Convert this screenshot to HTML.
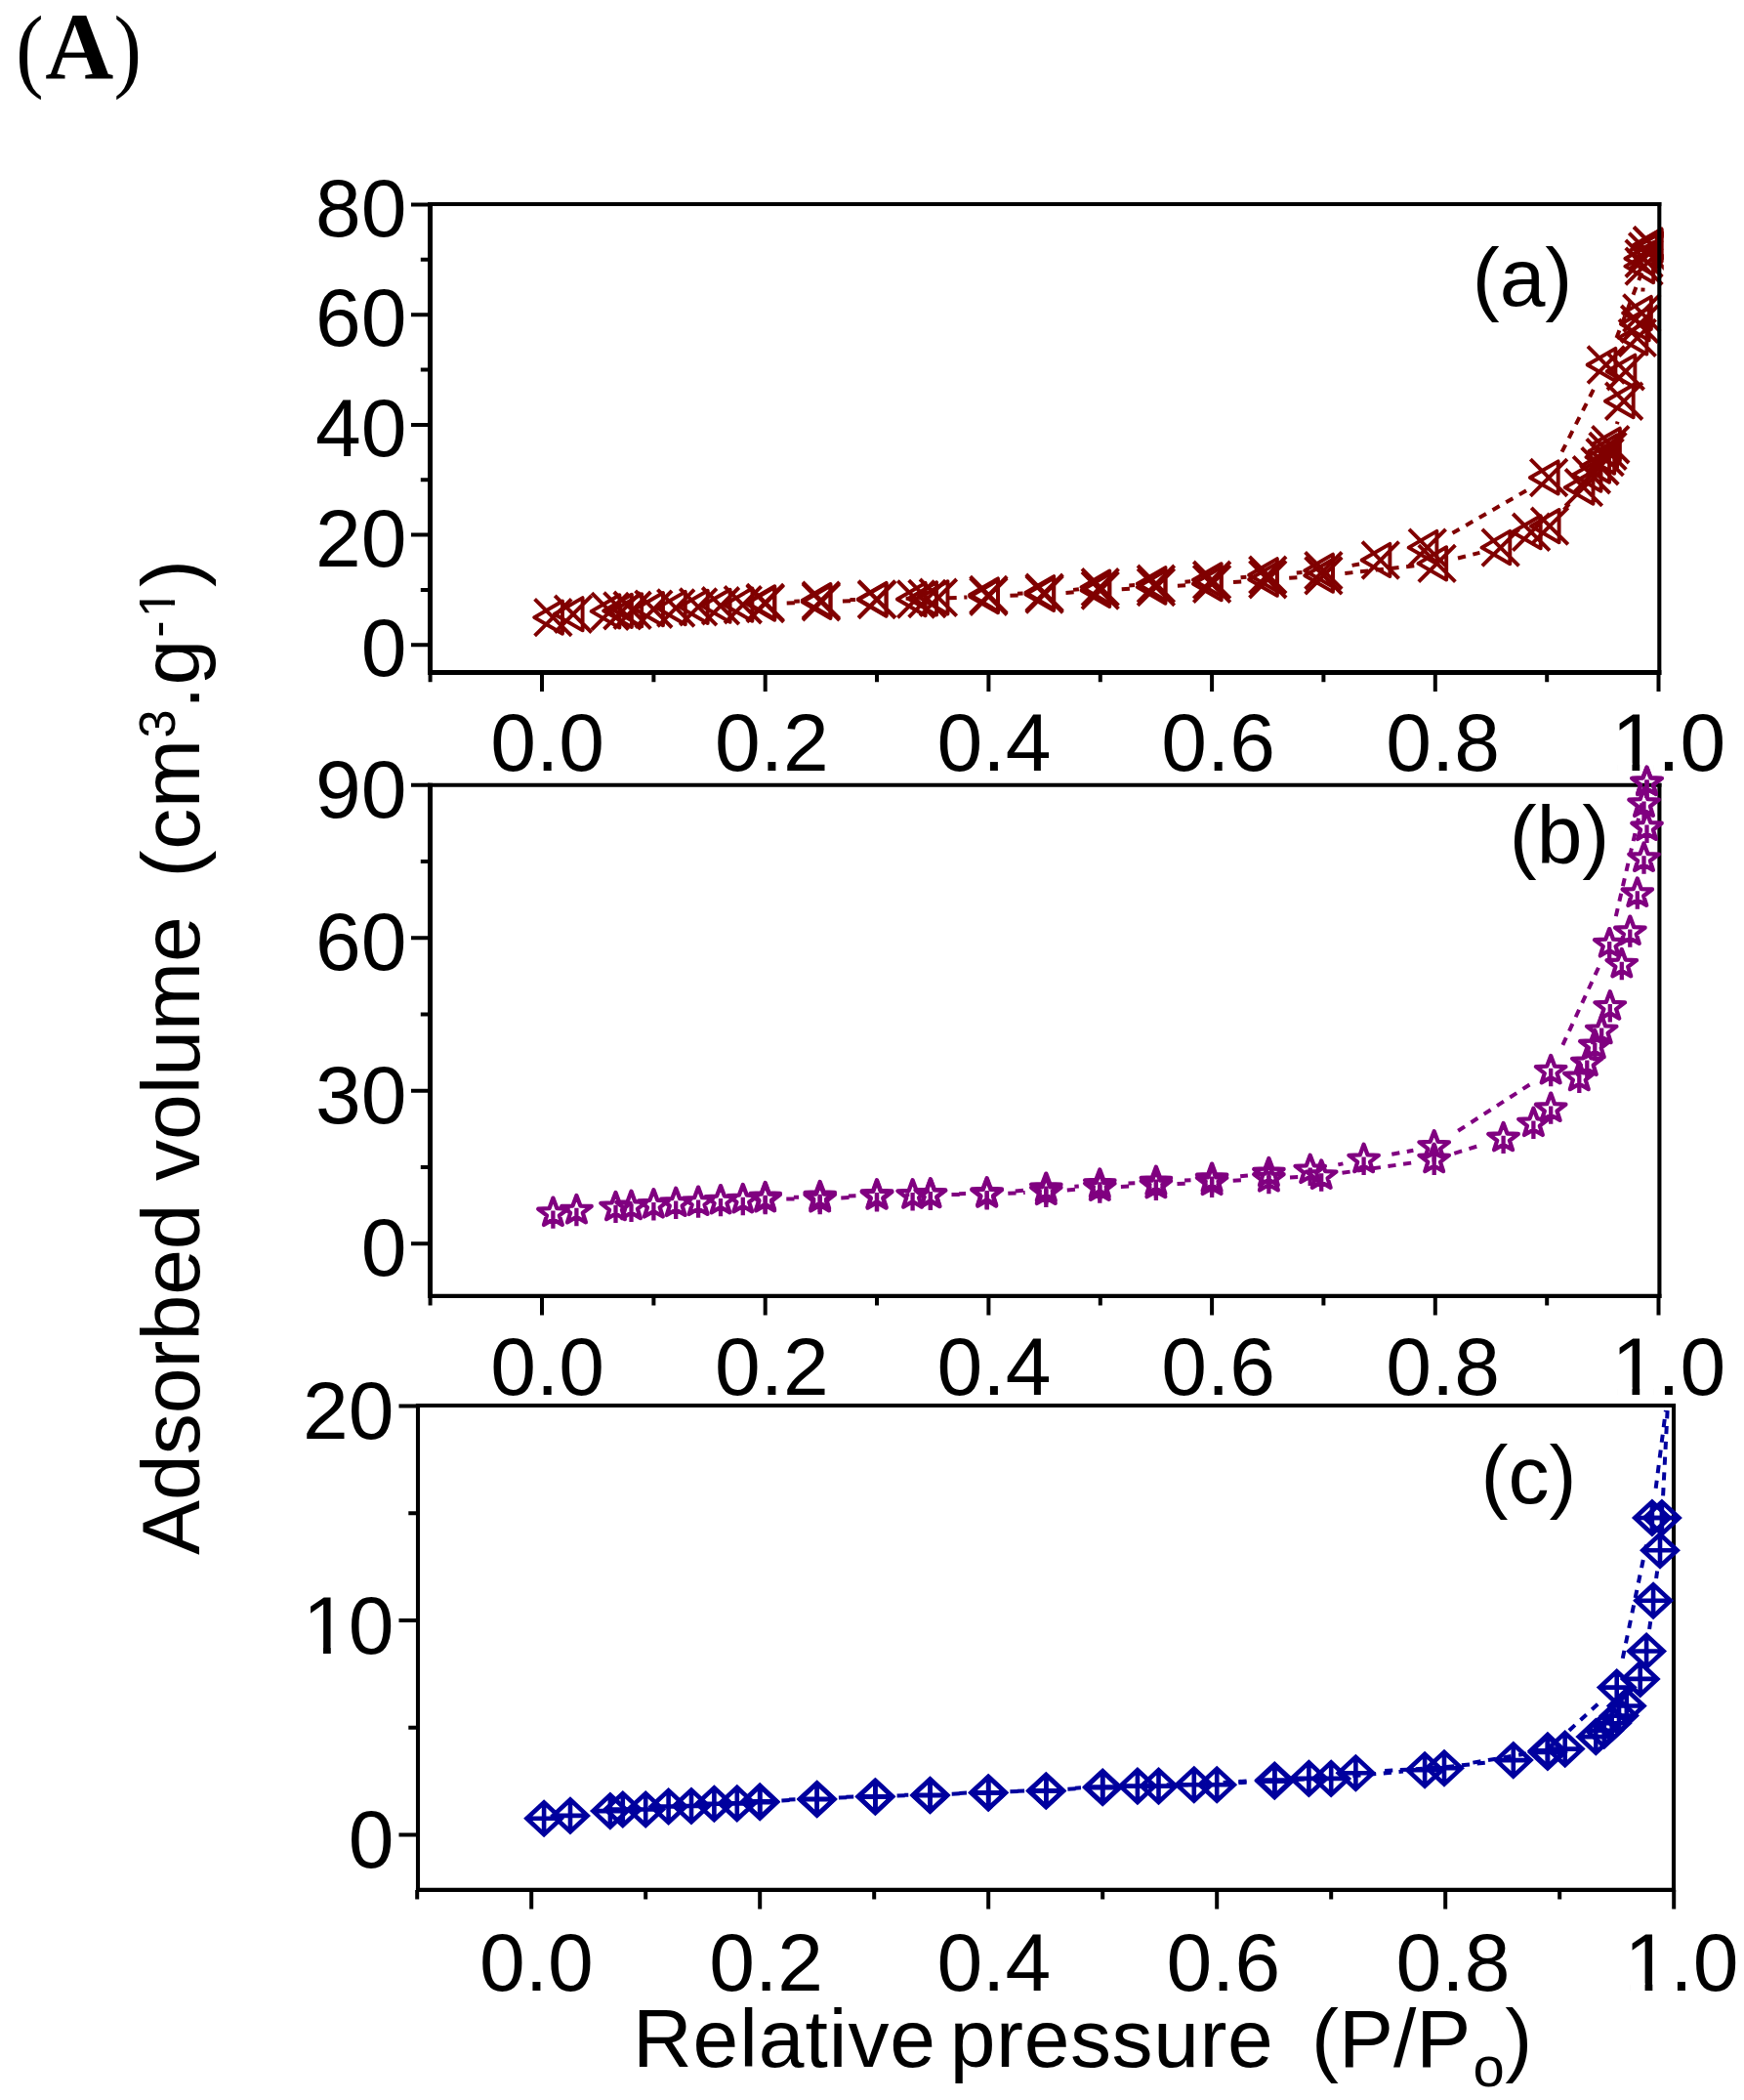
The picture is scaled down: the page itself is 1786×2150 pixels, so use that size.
<!DOCTYPE html>
<html lang="en">
<head>
<meta charset="utf-8">
<title>Adsorbed volume vs relative pressure (A)</title>
<style>
html,body{margin:0;padding:0;background:#fff;}
text{font-kerning:none;}
body{width:1786px;height:2150px;overflow:hidden;}
svg{display:block;}
</style>
</head>
<body>
<svg width="1786" height="2150" viewBox="0 0 1786 2150">
<rect width="1786" height="2150" fill="#fff"/>
<g id="panel-a">
<clipPath id="clip-a"><rect x="410.5" y="185.0" width="1293.3" height="503.5"/></clipPath>
<g clip-path="url(#clip-a)" fill="none" stroke="#800000">
<path d="M805.7 617.4L818.9 617.0M862.9 615.5L876.1 615.0M971.5 612.2L990.4 611.5M1034.4 609.8L1047.6 609.3M1091.5 606.9L1104.8 606.0M1148.7 603.2L1162.0 602.4M1205.9 599.8L1219.1 599.1M1263.0 596.0L1276.3 595.0M1320.2 591.7L1333.5 590.8M1377.3 587.0L1449.8 579.2M1493.0 571.5L1515.4 565.9M1601.6 522.1L1607.3 515.6M1655.8 434.2L1656.6 431.7M1682.4 298.5L1682.6 294.6" stroke-width="4" stroke-dasharray="8.2 7.6" stroke-dashoffset="0"/>
<path d="M1652.7 353.0L1684.1 271.7M1596.1 469.4L1634.8 393.1M1480.9 549.6L1567.0 500.0M1435.0 567.8L1440.6 566.3M1377.1 580.3L1392.1 577.5M1320.2 587.0L1333.5 586.0M1263.0 591.9L1276.4 590.7M1205.9 596.2L1219.2 595.3M1148.7 599.8L1162.0 599.1M1091.5 604.6L1104.9 603.3M1034.4 608.2L1047.6 607.6M982.9 610.6L990.4 610.2M920.0 612.9L939.0 612.4M862.9 614.2L876.1 614.0M805.7 616.0L818.9 615.5" stroke-width="4" stroke-dasharray="8.2 7.6" stroke-dashoffset="8.2"/>
<g stroke-width="3.9" stroke-linejoin="round">
<path d="M547.6 613.3L585.2 650.9M547.6 650.9L585.2 613.3M547.2 632.1L576.0 615.5L576.0 648.8Z"/>
<path d="M568.2 609.9L605.8 647.5M568.2 647.5L605.8 609.9M567.8 628.7L596.6 612.1L596.6 645.4Z"/>
<path d="M606.0 607.1L643.6 644.7M606.0 644.7L643.6 607.1M605.6 625.9L634.4 609.3L634.4 642.6Z"/>
<path d="M618.5 606.6L656.1 644.2M618.5 644.2L656.1 606.6M618.1 625.4L646.9 608.7L646.9 642.0Z"/>
<path d="M628.8 606.0L666.4 643.6M628.8 643.6L666.4 606.0M628.4 624.8L657.2 608.2L657.2 641.4Z"/>
<path d="M650.6 604.9L688.1 642.5M650.6 642.5L688.1 604.9M650.1 623.7L679.0 607.0L679.0 640.3Z"/>
<path d="M673.4 603.7L711.0 641.3M673.4 641.3L711.0 603.7M673.0 622.5L701.8 605.9L701.8 639.2Z"/>
<path d="M696.3 602.6L733.9 640.2M696.3 640.2L733.9 602.6M695.9 621.4L724.7 604.8L724.7 638.0Z"/>
<path d="M719.2 601.5L756.8 639.1M719.2 639.1L756.8 601.5M718.8 620.3L747.6 603.7L747.6 636.9Z"/>
<path d="M742.0 600.4L779.6 638.0M742.0 638.0L779.6 600.4M741.6 619.2L770.4 602.5L770.4 635.8Z"/>
<path d="M764.9 599.2L802.5 636.8M764.9 636.8L802.5 599.2M764.5 618.0L793.3 601.4L793.3 634.7Z"/>
<path d="M822.1 597.5L859.7 635.1M822.1 635.1L859.7 597.5M821.7 616.3L850.5 599.7L850.5 633.0Z"/>
<path d="M879.2 595.3L916.8 632.9M879.2 632.9L916.8 595.3M878.8 614.1L907.6 597.5L907.6 630.7Z"/>
<path d="M919.3 594.7L956.9 632.3M919.3 632.3L956.9 594.7M918.9 613.5L947.7 596.9L947.7 630.2Z"/>
<path d="M930.7 594.2L968.3 631.8M930.7 631.8L968.3 594.2M930.3 613.0L959.1 596.3L959.1 629.6Z"/>
<path d="M993.6 591.9L1031.2 629.5M993.6 629.5L1031.2 591.9M993.2 610.7L1022.0 594.1L1022.0 627.3Z"/>
<path d="M1050.8 589.7L1088.4 627.3M1050.8 627.3L1088.4 589.7M1050.4 608.5L1079.2 591.8L1079.2 625.1Z"/>
<path d="M1108.0 585.7L1145.5 623.3M1108.0 623.3L1145.5 585.7M1107.5 604.5L1136.3 587.9L1136.3 621.1Z"/>
<path d="M1165.1 582.3L1202.7 619.9M1165.1 619.9L1202.7 582.3M1164.7 601.1L1193.5 584.5L1193.5 617.8Z"/>
<path d="M1222.3 579.0L1259.9 616.6M1222.3 616.6L1259.9 579.0M1221.9 597.8L1250.7 581.1L1250.7 614.4Z"/>
<path d="M1279.5 574.4L1317.1 612.0M1279.5 612.0L1317.1 574.4M1279.1 593.2L1307.9 576.6L1307.9 609.9Z"/>
<path d="M1336.6 570.5L1374.2 608.1M1336.6 608.1L1374.2 570.5M1336.2 589.3L1365.0 572.7L1365.0 605.9Z"/>
<path d="M1452.8 558.1L1490.4 595.7M1452.8 595.7L1490.4 558.1M1452.4 576.9L1481.2 560.3L1481.2 593.5Z"/>
<path d="M1517.9 541.8L1555.5 579.4M1517.9 579.4L1555.5 541.8M1517.5 560.6L1546.3 543.9L1546.3 577.2Z"/>
<path d="M1549.3 526.0L1586.9 563.6M1549.3 563.6L1586.9 526.0M1548.9 544.8L1577.7 528.2L1577.7 561.4Z"/>
<path d="M1568.2 519.8L1605.8 557.4M1568.2 557.4L1605.8 519.8M1567.8 538.6L1596.6 522.0L1596.6 555.2Z"/>
<path d="M1603.1 480.3L1640.7 517.9M1603.1 517.9L1640.7 480.3M1602.7 499.1L1631.5 482.5L1631.5 515.8Z"/>
<path d="M1611.1 467.4L1648.7 505.0M1611.1 505.0L1648.7 467.4M1610.7 486.2L1639.5 469.6L1639.5 502.8Z"/>
<path d="M1619.7 458.4L1657.3 496.0M1619.7 496.0L1657.3 458.4M1619.3 477.2L1648.1 460.5L1648.1 493.8Z"/>
<path d="M1624.8 449.3L1662.4 486.9M1624.8 486.9L1662.4 449.3M1624.4 468.1L1653.2 451.5L1653.2 484.8Z"/>
<path d="M1627.7 443.1L1665.3 480.7M1627.7 480.7L1665.3 443.1M1627.3 461.9L1656.1 445.3L1656.1 478.6Z"/>
<path d="M1630.5 436.4L1668.1 474.0M1630.5 474.0L1668.1 436.4M1630.1 455.2L1658.9 438.6L1658.9 471.8Z"/>
<path d="M1644.3 391.9L1681.9 429.5M1644.3 429.5L1681.9 391.9M1643.9 410.7L1672.7 394.0L1672.7 427.3Z"/>
<path d="M1646.0 361.4L1683.6 399.0M1646.0 399.0L1683.6 361.4M1645.6 380.2L1674.4 363.6L1674.4 396.9Z"/>
<path d="M1658.0 327.1L1695.6 364.7M1658.0 364.7L1695.6 327.1M1657.6 345.9L1686.4 329.2L1686.4 362.5Z"/>
<path d="M1660.3 313.0L1697.9 350.6M1660.3 350.6L1697.9 313.0M1659.9 331.8L1688.7 315.2L1688.7 348.4Z"/>
<path d="M1662.5 301.7L1700.1 339.3M1662.5 339.3L1700.1 301.7M1662.1 320.5L1690.9 303.9L1690.9 337.1Z"/>
<path d="M1664.8 253.8L1702.4 291.4M1664.8 291.4L1702.4 253.8M1664.4 272.6L1693.2 256.0L1693.2 289.2Z"/>
<path d="M1664.8 245.9L1702.4 283.5M1664.8 283.5L1702.4 245.9M1664.4 264.7L1693.2 248.1L1693.2 281.4Z"/>
<path d="M1668.3 238.6L1705.9 276.2M1668.3 276.2L1705.9 238.6M1667.9 257.4L1696.7 240.8L1696.7 274.0Z"/>
<path d="M1673.2 232.4L1710.8 270.0M1673.2 270.0L1710.8 232.4M1672.8 251.2L1701.6 234.6L1701.6 267.8Z"/>
<path d="M1673.2 232.4L1710.8 270.0M1673.2 270.0L1710.8 232.4M1672.8 251.2L1701.6 234.6L1701.6 267.8Z"/>
<path d="M1626.0 354.7L1663.6 392.3M1626.0 392.3L1663.6 354.7M1625.6 373.5L1654.4 356.9L1654.4 390.1Z"/>
<path d="M1567.3 470.2L1604.9 507.8M1567.3 507.8L1604.9 470.2M1566.9 489.0L1595.7 472.4L1595.7 505.6Z"/>
<path d="M1443.0 541.8L1480.6 579.4M1443.0 579.4L1480.6 541.8M1442.6 560.6L1471.4 543.9L1471.4 577.2Z"/>
<path d="M1395.0 554.7L1432.6 592.3M1395.0 592.3L1432.6 554.7M1394.6 573.5L1423.4 556.9L1423.4 590.1Z"/>
<path d="M1336.6 565.4L1374.2 603.0M1336.6 603.0L1374.2 565.4M1336.2 584.2L1365.0 567.6L1365.0 600.9Z"/>
<path d="M1279.5 569.9L1317.1 607.5M1279.5 607.5L1317.1 569.9M1279.1 588.7L1307.9 572.1L1307.9 605.4Z"/>
<path d="M1222.3 575.0L1259.9 612.6M1222.3 612.6L1259.9 575.0M1221.9 593.8L1250.7 577.2L1250.7 610.4Z"/>
<path d="M1165.1 579.0L1202.7 616.6M1165.1 616.6L1202.7 579.0M1164.7 597.8L1193.5 581.1L1193.5 614.4Z"/>
<path d="M1108.0 582.3L1145.5 619.9M1108.0 619.9L1145.5 582.3M1107.5 601.1L1136.3 584.5L1136.3 617.8Z"/>
<path d="M1050.8 588.0L1088.4 625.6M1050.8 625.6L1088.4 588.0M1050.4 606.8L1079.2 590.1L1079.2 623.4Z"/>
<path d="M993.6 590.2L1031.2 627.8M993.6 627.8L1031.2 590.2M993.2 609.0L1022.0 592.4L1022.0 625.6Z"/>
<path d="M942.1 593.0L979.7 630.6M942.1 630.6L979.7 593.0M941.7 611.8L970.5 595.2L970.5 628.5Z"/>
<path d="M879.2 594.7L916.8 632.3M879.2 632.3L916.8 594.7M878.8 613.5L907.6 596.9L907.6 630.2Z"/>
<path d="M822.1 595.9L859.7 633.5M822.1 633.5L859.7 595.9M821.7 614.7L850.5 598.0L850.5 631.3Z"/>
<path d="M764.9 598.1L802.5 635.7M764.9 635.7L802.5 598.1M764.5 616.9L793.3 600.3L793.3 633.5Z"/>
</g></g>
<g stroke="#000" fill="none" stroke-linecap="butt">
<path d="M440.5 206.95V691.00" stroke-width="5.0"/>
<path d="M438.00 688.5H1701.35" stroke-width="5.0"/>
<path d="M438.00 209.0H1701.35" stroke-width="4.1"/>
<path d="M1699.3 206.95V691.00" stroke-width="4.1"/>
<path d="M421.0 660.3H440.5M421.0 547.6H440.5M421.0 434.9H440.5M421.0 322.2H440.5M421.0 209.5H440.5M430.8 603.9H440.5M430.8 491.2H440.5M430.8 378.5H440.5M430.8 265.8H440.5M440.6 688.5V698.2M555.0 688.5V708.0M669.4 688.5V698.2M783.7 688.5V708.0M898.0 688.5V698.2M1012.4 688.5V708.0M1126.8 688.5V698.2M1241.1 688.5V708.0M1355.4 688.5V698.2M1469.8 688.5V708.0M1584.2 688.5V698.2M1698.5 688.5V708.0" stroke-width="4.0"/>
</g>
<g font-family='"Liberation Sans", Arial, Helvetica, sans-serif' font-size="84" fill="#000">
<text x="416.5" y="692.3" text-anchor="end">0</text>
<text x="416.5" y="579.6" text-anchor="end">20</text>
<text x="416.5" y="466.9" text-anchor="end">40</text>
<text x="416.5" y="354.2" text-anchor="end">60</text>
<text x="416.5" y="241.5" text-anchor="end">80</text>
<text x="502.2" y="788.5">0.0</text>
<text x="732.0" y="788.5">0.2</text>
<text x="959.6" y="788.5">0.4</text>
<text x="1189.3" y="788.5">0.6</text>
<text x="1419.3" y="788.5">0.8</text>
<text x="1650.5" y="788.5">1.0</text>
<path fill="#fff" stroke="none" d="M1656.11 781.62H1671.49V789.30H1656.11ZM1679.21 781.62H1693.93V789.30H1679.21Z"/>
<text x="1559" y="312.5" text-anchor="middle" font-size="84">(a)</text>
</g>
</g>
<g id="panel-b">
<clipPath id="clip-b"><rect x="410.5" y="763.8" width="1293.5" height="563.1000000000001"/></clipPath>
<g stroke="#000" fill="none" stroke-linecap="butt">
<path d="M440.5 801.75V1328.95" stroke-width="5.0"/>
<path d="M438.00 1326.9H1701.45" stroke-width="4.1"/>
<path d="M438.00 803.8H1701.45" stroke-width="4.1"/>
<path d="M1699.4 801.75V1328.95" stroke-width="4.1"/>
<path d="M421.0 1273.3H440.5M421.0 1116.8H440.5M421.0 960.3H440.5M421.0 803.8H440.5M430.8 1195.0H440.5M430.8 1038.5H440.5M430.8 882.0H440.5M440.6 1326.9V1336.6M555.0 1326.9V1346.4M669.4 1326.9V1336.6M783.7 1326.9V1346.4M898.0 1326.9V1336.6M1012.4 1326.9V1346.4M1126.8 1326.9V1336.6M1241.1 1326.9V1346.4M1355.4 1326.9V1336.6M1469.8 1326.9V1346.4M1584.2 1326.9V1336.6M1698.5 1326.9V1346.4" stroke-width="4.0"/>
</g>
<g font-family='"Liberation Sans", Arial, Helvetica, sans-serif' font-size="84" fill="#000">
<text x="416.5" y="1306.3" text-anchor="end">0</text>
<text x="416.5" y="1149.8" text-anchor="end">30</text>
<text x="416.5" y="993.3" text-anchor="end">60</text>
<text x="416.5" y="836.8" text-anchor="end">90</text>
<text x="502.2" y="1427.5">0.0</text>
<text x="732.0" y="1427.5">0.2</text>
<text x="959.6" y="1427.5">0.4</text>
<text x="1189.3" y="1427.5">0.6</text>
<text x="1419.3" y="1427.5">0.8</text>
<text x="1650.5" y="1427.5">1.0</text>
<path fill="#fff" stroke="none" d="M1656.11 1420.62H1671.49V1428.30H1656.11ZM1679.21 1420.62H1693.93V1428.30H1679.21Z"/>
<text x="1597" y="883.5" text-anchor="middle" font-size="84">(b)</text>
</g>
<g clip-path="url(#clip-b)" fill="none" stroke="#800080">
<path d="M805.3 1227.4L818.1 1227.4M861.3 1226.4L876.5 1225.7M974.5 1223.0L989.1 1222.9M1032.3 1221.8L1049.7 1221.0M1092.8 1218.5L1104.8 1217.5M1147.9 1214.9L1162.3 1214.3M1205.5 1212.1L1219.5 1211.4M1262.7 1208.8L1277.9 1207.9M1321.0 1205.5L1331.6 1205.0M1374.5 1200.8L1447.3 1190.3M1489.3 1180.8L1518.9 1171.7" stroke-width="4" stroke-dasharray="8.2 7.6" stroke-dashoffset="0"/>
<path d="M1653.1 945.5L1681.6 822.2M1597.2 1076.8L1639.1 986.1M1486.8 1161.9L1570.0 1108.2M1417.8 1183.2L1447.4 1177.7M1362.9 1193.9L1375.4 1191.4M1262.6 1204.9L1277.9 1203.4M1205.5 1209.0L1219.5 1208.2M1147.9 1211.8L1162.3 1211.2M1092.8 1215.3L1104.8 1214.4M1032.2 1220.0L1049.8 1218.6M974.5 1222.3L989.1 1222.0M919.6 1223.3L931.3 1223.1M861.3 1224.7L876.5 1224.3M805.3 1225.9L818.1 1225.7" stroke-width="4" stroke-dasharray="8.2 7.6" stroke-dashoffset="8.2"/>
<g stroke-width="4.3" stroke-linejoin="round">
<path d="M566.4 1226.6L570.4 1237.2L581.7 1237.7L572.8 1244.4L575.8 1253.9L566.4 1248.4L557.0 1253.9L560.0 1244.4L551.2 1237.7L562.5 1237.2ZM566.4 1239.4L566.4 1257.8"/>
<path d="M590.4 1224.0L594.4 1234.6L605.7 1235.0L596.8 1241.8L599.9 1251.3L590.4 1245.8L581.0 1251.3L584.1 1241.8L575.2 1235.0L586.5 1234.6ZM590.4 1236.8L590.4 1255.2"/>
<path d="M630.5 1220.9L634.4 1231.4L645.7 1231.9L636.9 1238.7L639.9 1248.1L630.5 1242.7L621.1 1248.1L624.1 1238.7L615.3 1231.9L626.5 1231.4ZM630.5 1233.7L630.5 1252.1"/>
<path d="M646.5 1219.8L650.4 1230.4L661.7 1230.9L652.9 1237.6L655.9 1247.1L646.5 1241.7L637.1 1247.1L640.1 1237.6L631.3 1230.9L642.5 1230.4ZM646.5 1232.6L646.5 1251.0"/>
<path d="M669.4 1218.3L673.3 1228.8L684.6 1229.3L675.7 1236.1L678.8 1245.5L669.4 1240.1L659.9 1245.5L663.0 1236.1L654.1 1229.3L665.4 1228.8ZM669.4 1231.1L669.4 1249.5"/>
<path d="M692.2 1216.7L696.2 1227.2L707.4 1227.7L698.6 1234.5L701.6 1243.9L692.2 1238.5L682.8 1243.9L685.8 1234.5L677.0 1227.7L688.3 1227.2ZM692.2 1229.5L692.2 1247.9"/>
<path d="M715.1 1215.6L719.0 1226.2L730.3 1226.7L721.5 1233.4L724.5 1242.9L715.1 1237.5L705.7 1242.9L708.7 1233.4L699.9 1226.7L711.1 1226.2ZM715.1 1228.4L715.1 1246.8"/>
<path d="M738.0 1214.1L741.9 1224.6L753.2 1225.1L744.4 1231.9L747.4 1241.3L738.0 1235.9L728.6 1241.3L731.6 1231.9L722.7 1225.1L734.0 1224.6ZM738.0 1226.9L738.0 1245.3"/>
<path d="M760.8 1213.0L764.8 1223.6L776.0 1224.1L767.2 1230.8L770.2 1240.3L760.8 1234.9L751.4 1240.3L754.4 1230.8L745.6 1224.1L756.9 1223.6ZM760.8 1225.8L760.8 1244.2"/>
<path d="M783.7 1212.0L787.6 1222.6L798.9 1223.0L790.1 1229.8L793.1 1239.3L783.7 1233.8L774.3 1239.3L777.3 1229.8L768.5 1223.0L779.8 1222.6ZM783.7 1224.8L783.7 1243.2"/>
<path d="M839.7 1212.0L843.7 1222.6L854.9 1223.0L846.1 1229.8L849.1 1239.3L839.7 1233.8L830.3 1239.3L833.3 1229.8L824.5 1223.0L835.8 1222.6ZM839.7 1224.8L839.7 1243.2"/>
<path d="M898.0 1209.4L902.0 1219.9L913.3 1220.4L904.4 1227.2L907.5 1236.6L898.0 1231.2L888.6 1236.6L891.7 1227.2L882.8 1220.4L894.1 1219.9ZM898.0 1222.2L898.0 1240.6"/>
<path d="M934.6 1208.3L938.6 1218.9L949.9 1219.4L941.0 1226.1L944.0 1235.6L934.6 1230.2L925.2 1235.6L928.3 1226.1L919.4 1219.4L930.7 1218.9ZM934.6 1221.1L934.6 1239.5"/>
<path d="M952.9 1207.8L956.9 1218.4L968.2 1218.9L959.3 1225.6L962.3 1235.1L952.9 1229.7L943.5 1235.1L946.5 1225.6L937.7 1218.9L949.0 1218.4ZM952.9 1220.6L952.9 1239.0"/>
<path d="M1010.7 1207.3L1014.6 1217.9L1025.9 1218.4L1017.1 1225.1L1020.1 1234.6L1010.7 1229.1L1001.3 1234.6L1004.3 1225.1L995.5 1218.4L1006.7 1217.9ZM1010.7 1220.1L1010.7 1238.5"/>
<path d="M1071.3 1204.7L1075.2 1215.3L1086.5 1215.7L1077.7 1222.5L1080.7 1231.9L1071.3 1226.5L1061.9 1231.9L1064.9 1222.5L1056.1 1215.7L1067.3 1215.3ZM1071.3 1217.5L1071.3 1235.9"/>
<path d="M1126.3 1200.5L1130.2 1211.1L1141.5 1211.6L1132.7 1218.3L1135.7 1227.8L1126.3 1222.4L1116.9 1227.8L1119.9 1218.3L1111.1 1211.6L1122.3 1211.1ZM1126.3 1213.3L1126.3 1231.7"/>
<path d="M1183.9 1197.9L1187.9 1208.5L1199.1 1209.0L1190.3 1215.7L1193.3 1225.2L1183.9 1219.8L1174.5 1225.2L1177.5 1215.7L1168.7 1209.0L1180.0 1208.5ZM1183.9 1210.7L1183.9 1229.1"/>
<path d="M1241.1 1194.8L1245.0 1205.3L1256.3 1205.8L1247.5 1212.6L1250.5 1222.0L1241.1 1216.6L1231.7 1222.0L1234.7 1212.6L1225.9 1205.8L1237.2 1205.3ZM1241.1 1207.6L1241.1 1226.0"/>
<path d="M1299.4 1191.1L1303.4 1201.7L1314.6 1202.2L1305.8 1208.9L1308.8 1218.4L1299.4 1213.0L1290.0 1218.4L1293.0 1208.9L1284.2 1202.2L1295.5 1201.7ZM1299.4 1203.9L1299.4 1222.3"/>
<path d="M1353.2 1188.5L1357.1 1199.1L1368.4 1199.6L1359.6 1206.3L1362.6 1215.8L1353.2 1210.4L1343.8 1215.8L1346.8 1206.3L1337.9 1199.6L1349.2 1199.1ZM1353.2 1201.3L1353.2 1219.7"/>
<path d="M1468.7 1171.8L1472.6 1182.4L1483.9 1182.9L1475.0 1189.6L1478.1 1199.1L1468.7 1193.7L1459.3 1199.1L1462.3 1189.6L1453.4 1182.9L1464.7 1182.4ZM1468.7 1184.6L1468.7 1203.0"/>
<path d="M1539.6 1149.9L1543.5 1160.5L1554.8 1161.0L1545.9 1167.7L1549.0 1177.2L1539.6 1171.8L1530.1 1177.2L1533.2 1167.7L1524.3 1161.0L1535.6 1160.5ZM1539.6 1162.7L1539.6 1181.1"/>
<path d="M1570.4 1134.8L1574.4 1145.3L1585.6 1145.8L1576.8 1152.6L1579.8 1162.0L1570.4 1156.6L1561.0 1162.0L1564.0 1152.6L1555.2 1145.8L1566.5 1145.3ZM1570.4 1147.6L1570.4 1166.0"/>
<path d="M1588.2 1119.6L1592.1 1130.2L1603.4 1130.7L1594.5 1137.5L1597.6 1146.9L1588.2 1141.5L1578.7 1146.9L1581.8 1137.5L1572.9 1130.7L1584.2 1130.2ZM1588.2 1132.4L1588.2 1150.8"/>
<path d="M1617.3 1087.8L1621.3 1098.4L1632.5 1098.9L1623.7 1105.6L1626.7 1115.1L1617.3 1109.7L1607.9 1115.1L1610.9 1105.6L1602.1 1098.9L1613.4 1098.4ZM1617.3 1100.6L1617.3 1119.0"/>
<path d="M1625.3 1072.7L1629.3 1083.3L1640.5 1083.8L1631.7 1090.5L1634.7 1100.0L1625.3 1094.5L1615.9 1100.0L1618.9 1090.5L1610.1 1083.8L1621.4 1083.3ZM1625.3 1085.5L1625.3 1103.9"/>
<path d="M1633.3 1055.0L1637.3 1065.5L1648.5 1066.0L1639.7 1072.8L1642.7 1082.2L1633.3 1076.8L1623.9 1082.2L1626.9 1072.8L1618.1 1066.0L1629.4 1065.5ZM1633.3 1067.8L1633.3 1086.2"/>
<path d="M1640.2 1039.8L1644.1 1050.4L1655.4 1050.9L1646.6 1057.6L1649.6 1067.1L1640.2 1061.7L1630.8 1067.1L1633.8 1057.6L1625.0 1050.9L1636.2 1050.4ZM1640.2 1052.6L1640.2 1071.0"/>
<path d="M1648.8 1015.3L1652.7 1025.9L1664.0 1026.4L1655.1 1033.1L1658.2 1042.6L1648.8 1037.2L1639.4 1042.6L1642.4 1033.1L1633.5 1026.4L1644.8 1025.9ZM1648.8 1028.1L1648.8 1046.5"/>
<path d="M1660.8 972.0L1664.7 982.6L1676.0 983.1L1667.2 989.8L1670.2 999.3L1660.8 993.9L1651.4 999.3L1654.4 989.8L1645.5 983.1L1656.8 982.6ZM1660.8 984.8L1660.8 1003.2"/>
<path d="M1669.3 938.6L1673.3 949.2L1684.6 949.7L1675.7 956.4L1678.7 965.9L1669.3 960.5L1659.9 965.9L1662.9 956.4L1654.1 949.7L1665.4 949.2ZM1669.3 951.4L1669.3 969.8"/>
<path d="M1676.8 899.5L1680.7 910.1L1692.0 910.5L1683.2 917.3L1686.2 926.8L1676.8 921.3L1667.4 926.8L1670.4 917.3L1661.6 910.5L1672.8 910.1ZM1676.8 912.3L1676.8 930.7"/>
<path d="M1683.5 863.5L1687.5 874.1L1698.7 874.6L1689.9 881.3L1692.9 890.8L1683.5 885.3L1674.1 890.8L1677.1 881.3L1668.3 874.6L1679.6 874.1ZM1683.5 876.3L1683.5 894.7"/>
<path d="M1686.5 831.7L1690.4 842.2L1701.7 842.7L1692.9 849.5L1695.9 858.9L1686.5 853.5L1677.1 858.9L1680.1 849.5L1671.3 842.7L1682.5 842.2ZM1686.5 844.5L1686.5 862.9"/>
<path d="M1683.5 807.7L1687.5 818.2L1698.7 818.7L1689.9 825.5L1692.9 834.9L1683.5 829.5L1674.1 834.9L1677.1 825.5L1668.3 818.7L1679.6 818.2ZM1683.5 820.5L1683.5 838.9"/>
<path d="M1686.5 785.8L1690.4 796.3L1701.7 796.8L1692.9 803.6L1695.9 813.0L1686.5 807.6L1677.1 813.0L1680.1 803.6L1671.3 796.8L1682.5 796.3ZM1686.5 798.6L1686.5 817.0"/>
<path d="M1686.5 785.8L1690.4 796.3L1701.7 796.8L1692.9 803.6L1695.9 813.0L1686.5 807.6L1677.1 813.0L1680.1 803.6L1671.3 796.8L1682.5 796.3ZM1686.5 798.6L1686.5 817.0"/>
<path d="M1648.2 951.1L1652.1 961.7L1663.4 962.2L1654.6 968.9L1657.6 978.4L1648.2 973.0L1638.8 978.4L1641.8 968.9L1633.0 962.2L1644.2 961.7ZM1648.2 963.9L1648.2 982.3"/>
<path d="M1588.2 1081.0L1592.1 1091.6L1603.4 1092.1L1594.5 1098.9L1597.6 1108.3L1588.2 1102.9L1578.7 1108.3L1581.8 1098.9L1572.9 1092.1L1584.2 1091.6ZM1588.2 1093.8L1588.2 1112.2"/>
<path d="M1468.7 1158.3L1472.6 1168.8L1483.9 1169.3L1475.0 1176.1L1478.1 1185.5L1468.7 1180.1L1459.3 1185.5L1462.3 1176.1L1453.4 1169.3L1464.7 1168.8ZM1468.7 1171.1L1468.7 1189.5"/>
<path d="M1396.6 1171.8L1400.6 1182.4L1411.8 1182.9L1403.0 1189.6L1406.0 1199.1L1396.6 1193.7L1387.2 1199.1L1390.2 1189.6L1381.4 1182.9L1392.7 1182.4ZM1396.6 1184.6L1396.6 1203.0"/>
<path d="M1341.7 1182.8L1345.7 1193.3L1356.9 1193.8L1348.1 1200.6L1351.1 1210.0L1341.7 1204.6L1332.3 1210.0L1335.3 1200.6L1326.5 1193.8L1337.8 1193.3ZM1341.7 1195.6L1341.7 1214.0"/>
<path d="M1299.4 1185.9L1303.4 1196.5L1314.6 1197.0L1305.8 1203.7L1308.8 1213.2L1299.4 1207.8L1290.0 1213.2L1293.0 1203.7L1284.2 1197.0L1295.5 1196.5ZM1299.4 1198.7L1299.4 1217.1"/>
<path d="M1241.1 1191.6L1245.0 1202.2L1256.3 1202.7L1247.5 1209.5L1250.5 1218.9L1241.1 1213.5L1231.7 1218.9L1234.7 1209.5L1225.9 1202.7L1237.2 1202.2ZM1241.1 1204.4L1241.1 1222.8"/>
<path d="M1183.9 1194.8L1187.9 1205.3L1199.1 1205.8L1190.3 1212.6L1193.3 1222.0L1183.9 1216.6L1174.5 1222.0L1177.5 1212.6L1168.7 1205.8L1180.0 1205.3ZM1183.9 1207.6L1183.9 1226.0"/>
<path d="M1126.3 1197.4L1130.2 1207.9L1141.5 1208.4L1132.7 1215.2L1135.7 1224.6L1126.3 1219.2L1116.9 1224.6L1119.9 1215.2L1111.1 1208.4L1122.3 1207.9ZM1126.3 1210.2L1126.3 1228.6"/>
<path d="M1071.3 1201.6L1075.2 1212.1L1086.5 1212.6L1077.7 1219.4L1080.7 1228.8L1071.3 1223.4L1061.9 1228.8L1064.9 1219.4L1056.1 1212.6L1067.3 1212.1ZM1071.3 1214.4L1071.3 1232.8"/>
<path d="M1010.7 1206.3L1014.6 1216.8L1025.9 1217.3L1017.1 1224.1L1020.1 1233.5L1010.7 1228.1L1001.3 1233.5L1004.3 1224.1L995.5 1217.3L1006.7 1216.8ZM1010.7 1219.1L1010.7 1237.5"/>
<path d="M952.9 1207.3L956.9 1217.9L968.2 1218.4L959.3 1225.1L962.3 1234.6L952.9 1229.1L943.5 1234.6L946.5 1225.1L937.7 1218.4L949.0 1217.9ZM952.9 1220.1L952.9 1238.5"/>
<path d="M898.0 1208.3L902.0 1218.9L913.3 1219.4L904.4 1226.1L907.5 1235.6L898.0 1230.2L888.6 1235.6L891.7 1226.1L882.8 1219.4L894.1 1218.9ZM898.0 1221.1L898.0 1239.5"/>
<path d="M839.7 1209.9L843.7 1220.5L854.9 1221.0L846.1 1227.7L849.1 1237.2L839.7 1231.7L830.3 1237.2L833.3 1227.7L824.5 1221.0L835.8 1220.5ZM839.7 1222.7L839.7 1241.1"/>
<path d="M783.7 1210.9L787.6 1221.5L798.9 1222.0L790.1 1228.8L793.1 1238.2L783.7 1232.8L774.3 1238.2L777.3 1228.8L768.5 1222.0L779.8 1221.5ZM783.7 1223.7L783.7 1242.1"/>
</g></g>
</g>
<g id="panel-c">
<clipPath id="clip-c"><rect x="398.0" y="1437.0" width="1325.0" height="497.9000000000001"/></clipPath>
<g stroke="#000" fill="none" stroke-linecap="butt">
<path d="M428.0 1436.95V1936.95" stroke-width="4.1"/>
<path d="M425.95 1934.9H1716.05" stroke-width="4.1"/>
<path d="M425.95 1439.0H1716.05" stroke-width="4.1"/>
<path d="M1714.0 1436.95V1936.95" stroke-width="4.1"/>
<path d="M408.5 1878.5H428.0M408.5 1659.0H428.0M408.5 1439.5H428.0M418.3 1768.8H428.0M418.3 1549.2H428.0M427.2 1934.9V1944.6M544.2 1934.9V1954.4M661.2 1934.9V1944.6M778.2 1934.9V1954.4M895.2 1934.9V1944.6M1012.2 1934.9V1954.4M1129.2 1934.9V1944.6M1246.2 1934.9V1954.4M1363.2 1934.9V1944.6M1480.2 1934.9V1954.4M1597.2 1934.9V1944.6M1714.2 1934.9V1954.4" stroke-width="4.0"/>
</g>
<g font-family='"Liberation Sans", Arial, Helvetica, sans-serif' font-size="84" fill="#000">
<text x="403.5" y="1912.3" text-anchor="end">0</text>
<text x="403.5" y="1692.8" text-anchor="end">10</text>
<text x="403.5" y="1473.3" text-anchor="end">20</text>
<text x="491.0" y="2037.5">0.0</text>
<text x="726.3" y="2037.5">0.2</text>
<text x="959.4" y="2037.5">0.4</text>
<text x="1194.4" y="2037.5">0.6</text>
<text x="1429.6" y="2037.5">0.8</text>
<text x="1663.6" y="2037.5">1.0</text>
<path fill="#fff" stroke="none" d="M1669.21 2030.62H1684.59V2038.30H1669.21ZM1692.31 2030.62H1707.03V2038.30H1692.31Z"/>
<path fill="#fff" stroke="none" d="M315.66 1685.92H331.04V1693.60H315.66ZM338.76 1685.92H353.48V1693.60H338.76Z"/>
<text x="1565.5" y="1539.0" text-anchor="middle" font-size="84">(c)</text>
</g>
<g clip-path="url(#clip-c)" fill="none" stroke="#00009e">
<path d="M800.4 1843.4L814.5 1842.7M858.9 1840.6L874.2 1840.0M918.6 1838.5L930.3 1838.2M974.7 1836.7L990.0 1836.0M1034.4 1834.3L1049.1 1833.8M1093.4 1831.7L1107.0 1830.9M1151.4 1829.0L1164.3 1828.6M1208.7 1827.5L1224.0 1827.2M1268.4 1825.3L1283.1 1824.4M1327.5 1822.0L1341.0 1821.3M1385.3 1818.3L1437.0 1813.6M1481.2 1809.1L1527.8 1803.9M1689.1 1668.0L1690.2 1660.1M1696.1 1616.1L1697.1 1608.6M1703.1 1531.3L1707.6 1444.1" stroke-width="4" stroke-dasharray="8.2 7.6" stroke-dashoffset="0"/>
<path d="M1694.7 1531.4L1705.9 1444.0M1660.2 1705.3L1687.3 1575.2M1601.3 1776.8L1639.3 1742.0M1500.9 1805.9L1563.0 1795.5M1410.5 1813.4L1456.9 1810.8M1362.4 1817.7L1366.3 1817.2M1245.0 1825.4L1283.1 1823.2M1187.1 1827.5L1200.6 1827.2M1093.4 1831.2L1107.0 1830.3M1034.4 1833.9L1049.1 1833.4M974.7 1836.3L990.0 1835.6M918.6 1838.0L930.3 1837.8M858.9 1840.2L874.2 1839.5M800.4 1842.8L814.5 1842.2" stroke-width="4" stroke-dasharray="8.2 7.6" stroke-dashoffset="8.2"/>
<g stroke-width="4.6" stroke-linejoin="miter">
<path d="M539.5 1861.8L557.1 1845.4L574.7 1861.8L557.1 1878.2ZM539.5 1861.8L574.7 1861.8M557.1 1845.4L557.1 1878.2"/>
<path d="M566.4 1858.9L584.0 1842.5L601.6 1858.9L584.0 1875.3ZM566.4 1858.9L601.6 1858.9M584.0 1842.5L584.0 1875.3"/>
<path d="M607.3 1854.1L624.9 1837.7L642.5 1854.1L624.9 1870.5ZM607.3 1854.1L642.5 1854.1M624.9 1837.7L624.9 1870.5"/>
<path d="M620.2 1852.5L637.8 1836.1L655.4 1852.5L637.8 1868.9ZM620.2 1852.5L655.4 1852.5M637.8 1836.1L637.8 1868.9"/>
<path d="M643.6 1852.5L661.2 1836.1L678.8 1852.5L661.2 1868.9ZM643.6 1852.5L678.8 1852.5M661.2 1836.1L661.2 1868.9"/>
<path d="M667.0 1849.5L684.6 1833.1L702.2 1849.5L684.6 1865.9ZM667.0 1849.5L702.2 1849.5M684.6 1833.1L684.6 1865.9"/>
<path d="M690.4 1849.0L708.0 1832.6L725.6 1849.0L708.0 1865.4ZM690.4 1849.0L725.6 1849.0M708.0 1832.6L708.0 1865.4"/>
<path d="M713.8 1846.8L731.4 1830.4L749.0 1846.8L731.4 1863.2ZM713.8 1846.8L749.0 1846.8M731.4 1830.4L731.4 1863.2"/>
<path d="M737.2 1846.4L754.8 1830.0L772.4 1846.4L754.8 1862.8ZM737.2 1846.4L772.4 1846.4M754.8 1830.0L754.8 1862.8"/>
<path d="M760.6 1845.1L778.2 1828.7L795.8 1845.1L778.2 1861.5ZM760.6 1845.1L795.8 1845.1M778.2 1828.7L778.2 1861.5"/>
<path d="M819.1 1842.2L836.7 1825.8L854.3 1842.2L836.7 1858.6ZM819.1 1842.2L854.3 1842.2M836.7 1825.8L836.7 1858.6"/>
<path d="M878.8 1839.6L896.4 1823.2L914.0 1839.6L896.4 1856.0ZM878.8 1839.6L914.0 1839.6M896.4 1823.2L896.4 1856.0"/>
<path d="M934.9 1838.3L952.5 1821.9L970.1 1838.3L952.5 1854.7ZM934.9 1838.3L970.1 1838.3M952.5 1821.9L952.5 1854.7"/>
<path d="M994.6 1835.6L1012.2 1819.2L1029.8 1835.6L1012.2 1852.0ZM994.6 1835.6L1029.8 1835.6M1012.2 1819.2L1012.2 1852.0"/>
<path d="M1053.7 1833.7L1071.3 1817.3L1088.9 1833.7L1071.3 1850.1ZM1053.7 1833.7L1088.9 1833.7M1071.3 1817.3L1071.3 1850.1"/>
<path d="M1111.6 1830.2L1129.2 1813.8L1146.8 1830.2L1129.2 1846.6ZM1111.6 1830.2L1146.8 1830.2M1129.2 1813.8L1129.2 1846.6"/>
<path d="M1168.9 1828.6L1186.5 1812.2L1204.1 1828.6L1186.5 1845.0ZM1168.9 1828.6L1204.1 1828.6M1186.5 1812.2L1186.5 1845.0"/>
<path d="M1228.6 1827.3L1246.2 1810.9L1263.8 1827.3L1246.2 1843.7ZM1228.6 1827.3L1263.8 1827.3M1246.2 1810.9L1246.2 1843.7"/>
<path d="M1287.7 1823.6L1305.3 1807.2L1322.9 1823.6L1305.3 1840.0ZM1287.7 1823.6L1322.9 1823.6M1305.3 1807.2L1305.3 1840.0"/>
<path d="M1345.6 1820.9L1363.2 1804.5L1380.8 1820.9L1363.2 1837.3ZM1345.6 1820.9L1380.8 1820.9M1363.2 1804.5L1363.2 1837.3"/>
<path d="M1441.5 1812.2L1459.1 1795.8L1476.7 1812.2L1459.1 1828.6ZM1441.5 1812.2L1476.7 1812.2M1459.1 1795.8L1459.1 1828.6"/>
<path d="M1532.2 1802.1L1549.8 1785.7L1567.4 1802.1L1549.8 1818.5ZM1532.2 1802.1L1567.4 1802.1M1549.8 1785.7L1549.8 1818.5"/>
<path d="M1567.3 1793.9L1584.9 1777.5L1602.5 1793.9L1584.9 1810.3ZM1567.3 1793.9L1602.5 1793.9M1584.9 1777.5L1584.9 1810.3"/>
<path d="M1585.1 1790.6L1602.7 1774.2L1620.3 1790.6L1602.7 1807.0ZM1585.1 1790.6L1620.3 1790.6M1602.7 1774.2L1602.7 1807.0"/>
<path d="M1616.7 1778.1L1634.3 1761.7L1651.9 1778.1L1634.3 1794.5ZM1616.7 1778.1L1651.9 1778.1M1634.3 1761.7L1634.3 1794.5"/>
<path d="M1625.2 1771.8L1642.8 1755.4L1660.4 1771.8L1642.8 1788.2ZM1625.2 1771.8L1660.4 1771.8M1642.8 1755.4L1642.8 1788.2"/>
<path d="M1633.1 1764.3L1650.7 1747.9L1668.3 1764.3L1650.7 1780.7ZM1633.1 1764.3L1668.3 1764.3M1650.7 1747.9L1650.7 1780.7"/>
<path d="M1640.4 1756.6L1658.0 1740.2L1675.6 1756.6L1658.0 1773.0ZM1640.4 1756.6L1675.6 1756.6M1658.0 1740.2L1658.0 1773.0"/>
<path d="M1648.2 1746.5L1665.8 1730.1L1683.4 1746.5L1665.8 1762.9ZM1648.2 1746.5L1683.4 1746.5M1665.8 1730.1L1665.8 1762.9"/>
<path d="M1662.1 1718.9L1679.7 1702.5L1697.3 1718.9L1679.7 1735.3ZM1662.1 1718.9L1697.3 1718.9M1679.7 1702.5L1679.7 1735.3"/>
<path d="M1668.5 1690.5L1686.1 1674.1L1703.7 1690.5L1686.1 1706.9ZM1668.5 1690.5L1703.7 1690.5M1686.1 1674.1L1686.1 1706.9"/>
<path d="M1675.5 1638.7L1693.1 1622.3L1710.7 1638.7L1693.1 1655.1ZM1675.5 1638.7L1710.7 1638.7M1693.1 1622.3L1693.1 1655.1"/>
<path d="M1682.4 1587.2L1700.0 1570.8L1717.6 1587.2L1700.0 1603.6ZM1682.4 1587.2L1717.6 1587.2M1700.0 1570.8L1700.0 1603.6"/>
<path d="M1684.3 1554.0L1701.9 1537.6L1719.5 1554.0L1701.9 1570.4ZM1684.3 1554.0L1719.5 1554.0M1701.9 1537.6L1701.9 1570.4"/>
<path d="M1674.3 1554.0L1691.9 1537.6L1709.5 1554.0L1691.9 1570.4ZM1674.3 1554.0L1709.5 1554.0M1691.9 1537.6L1691.9 1570.4"/>
<path d="M1638.1 1727.6L1655.7 1711.2L1673.3 1727.6L1655.7 1744.0ZM1638.1 1727.6L1673.3 1727.6M1655.7 1711.2L1655.7 1744.0"/>
<path d="M1567.3 1792.4L1584.9 1776.0L1602.5 1792.4L1584.9 1808.8ZM1567.3 1792.4L1602.5 1792.4M1584.9 1776.0L1584.9 1808.8"/>
<path d="M1461.4 1810.2L1479.0 1793.8L1496.6 1810.2L1479.0 1826.6ZM1461.4 1810.2L1496.6 1810.2M1479.0 1793.8L1479.0 1826.6"/>
<path d="M1370.8 1815.2L1388.4 1798.8L1406.0 1815.2L1388.4 1831.6ZM1370.8 1815.2L1406.0 1815.2M1388.4 1798.8L1388.4 1831.6"/>
<path d="M1322.8 1820.9L1340.4 1804.5L1358.0 1820.9L1340.4 1837.3ZM1322.8 1820.9L1358.0 1820.9M1340.4 1804.5L1340.4 1837.3"/>
<path d="M1287.7 1822.5L1305.3 1806.1L1322.9 1822.5L1305.3 1838.9ZM1287.7 1822.5L1322.9 1822.5M1305.3 1806.1L1305.3 1838.9"/>
<path d="M1205.2 1827.3L1222.8 1810.9L1240.4 1827.3L1222.8 1843.7ZM1205.2 1827.3L1240.4 1827.3M1222.8 1810.9L1222.8 1843.7"/>
<path d="M1147.3 1828.6L1164.9 1812.2L1182.5 1828.6L1164.9 1845.0ZM1147.3 1828.6L1182.5 1828.6M1164.9 1812.2L1164.9 1845.0"/>
<path d="M1111.6 1829.5L1129.2 1813.1L1146.8 1829.5L1129.2 1845.9ZM1111.6 1829.5L1146.8 1829.5M1129.2 1813.1L1129.2 1845.9"/>
<path d="M1053.7 1833.2L1071.3 1816.8L1088.9 1833.2L1071.3 1849.6ZM1053.7 1833.2L1088.9 1833.2M1071.3 1816.8L1071.3 1849.6"/>
<path d="M994.6 1835.2L1012.2 1818.8L1029.8 1835.2L1012.2 1851.6ZM994.6 1835.2L1029.8 1835.2M1012.2 1818.8L1012.2 1851.6"/>
<path d="M934.9 1837.8L952.5 1821.4L970.1 1837.8L952.5 1854.2ZM934.9 1837.8L970.1 1837.8M952.5 1821.4L952.5 1854.2"/>
<path d="M878.8 1839.2L896.4 1822.8L914.0 1839.2L896.4 1855.6ZM878.8 1839.2L914.0 1839.2M896.4 1822.8L896.4 1855.6"/>
<path d="M819.1 1841.8L836.7 1825.4L854.3 1841.8L836.7 1858.2ZM819.1 1841.8L854.3 1841.8M836.7 1825.4L836.7 1858.2"/>
<path d="M760.6 1844.4L778.2 1828.0L795.8 1844.4L778.2 1860.8ZM760.6 1844.4L795.8 1844.4M778.2 1828.0L778.2 1860.8"/>
</g></g>
</g>
<text id="xtitle" y="2116.3" font-family='"Liberation Sans", Arial, Helvetica, sans-serif' font-size="84" fill="#000" xml:space="preserve"><tspan x="648.0" letter-spacing="0.94">Relative </tspan><tspan x="972.8" letter-spacing="0.6">pressure  </tspan><tspan x="1343.0">(P/P</tspan><tspan font-size="58" dy="19.5" dx="2">o</tspan><tspan dy="-19.5" dx="0.5">)</tspan></text>
<text id="ytitle" transform="translate(204 1592.0) rotate(-90)" font-family='"Liberation Sans", Arial, Helvetica, sans-serif' font-size="84" fill="#000" xml:space="preserve">Adsorbed volume  <tspan dx="-7">(</tspan><tspan dx="1 0.6">cm</tspan><tspan font-size="52" dy="-25.5" dx="1.6">3</tspan><tspan dy="25.5" dx="0.6 1">.g</tspan><tspan font-size="52" dy="-25.5" dx="2 3.2">-1</tspan><tspan dy="25.5" dx="2.5">)</tspan></text>
<g transform="translate(204 1592.0) rotate(-90)"><path fill="#fff" stroke="none" d="M962.83 -29.98H972.60V-24.70H962.83ZM977.49 -29.98H986.85V-24.70H977.49Z"/></g>
<text id="figlabel" y="80" font-family='"Liberation Serif", "Times New Roman", serif' font-size="95" fill="#000"><tspan x="16.2" dy="1.5" textLength="28.4" lengthAdjust="spacingAndGlyphs">(</tspan><tspan x="46.3" dy="-1.5" font-size="97" font-weight="bold">A</tspan><tspan x="116.5" dy="1.5" textLength="28.4" lengthAdjust="spacingAndGlyphs">)</tspan></text>
</svg>
</body>
</html>
